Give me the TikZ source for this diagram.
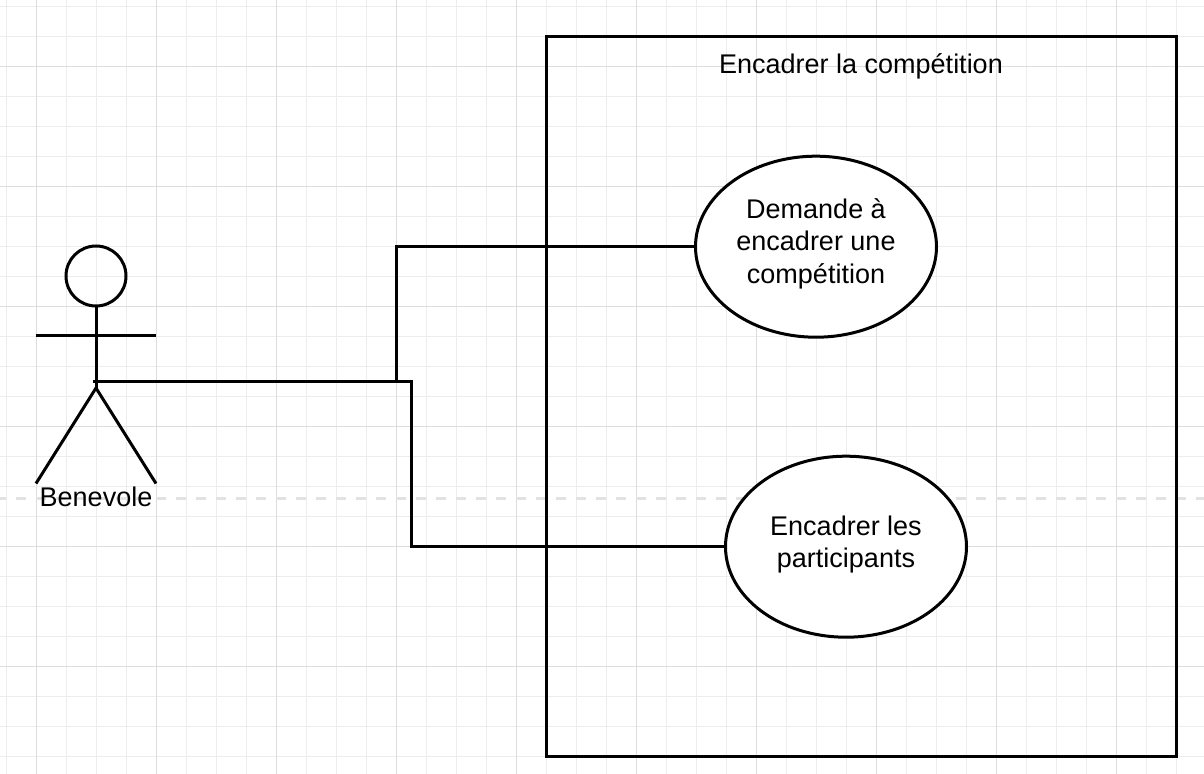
\documentclass[tikz,border=0pt]{standalone}
\usepackage{fontspec}
\setmainfont{Liberation Sans}
\usetikzlibrary{positioning}
\usetikzlibrary{shapes.geometric}

\definecolor{gridminor}{HTML}{EDEDED}
\definecolor{gridmajor}{HTML}{DDDDDD}
\definecolor{pagebreak}{HTML}{E2E2E2}

\tikzset{
    stroke/.style={draw=black, line width=1.5pt},
    usecase/.style={stroke, ellipse, fill=white, minimum width=120.5pt, minimum height=90.5pt, inner sep=0pt, align=center, font=\fontsize{13.5pt}{16.25pt}\selectfont},
    caption/.style={inner sep=0pt, align=center, font=\fontsize{13.5pt}{16.25pt}\selectfont},
}

\begin{document}
\begin{tikzpicture}[x=0.5pt, y=-0.5pt]

    \useasboundingbox (0,0) rectangle (1204,774);

    % grid
    \foreach \gx in {6,36,...,1204} {\draw[gridminor, line width=0.5pt] (\gx.5,0) -- (\gx.5,774);}
    \foreach \gy in {6,36,...,774} {\draw[gridminor, line width=0.5pt] (0,\gy.5) -- (1204,\gy.5);}
    \foreach \gx in {36,156,...,1204} {\draw[gridmajor, line width=0.5pt] (\gx.5,0) -- (\gx.5,774);}
    \foreach \gy in {66,186,...,774} {\draw[gridmajor, line width=0.5pt] (0,\gy.5) -- (1204,\gy.5);}
    \draw[pagebreak, line width=1.5pt, dash pattern=on 5pt off 5pt, dash phase=2pt] (0,498.5) -- (1204,498.5);

    % system boundary
    \node[stroke, minimum width=315pt, minimum height=360pt, inner sep=0pt] (system) at (861,396.7) {};
    \node[caption] (system-title) at (861,66) {Encadrer la compétition};

    % actor
    \node[stroke, circle, minimum size=30pt, inner sep=0pt] (head) at (96,276) {};
    \coordinate (hip) at (96,388);
    \coordinate (hand-l) at (36,336);
    \coordinate (hand-r) at (156,336);
    \coordinate (foot-l) at (36,483.5);
    \coordinate (foot-r) at (156,483.5);
    \draw[stroke] (head) -- (hip);
    \draw[stroke] (hand-l) -- (hand-r);
    \draw[stroke] (foot-l) -- (hip) -- (foot-r);
    \node[caption, below=1.5pt of hip |- foot-l] (actor) {Benevole};

    % use cases
    \coordinate (anchor) at (93,381.7);
    \node[usecase, text depth=6pt] (ask) at (816,246.7) {Demande à\\encadrer une\\compétition};
    \node[usecase, text depth=5pt] (supervise) at (846,546.7) {Encadrer les\\participants};

    % connectors
    \draw[stroke] (anchor) -| (396,246.7) -- (ask);
    \draw[stroke] (anchor) -| (411,546.7) -- (supervise);

\end{tikzpicture}
\end{document}
